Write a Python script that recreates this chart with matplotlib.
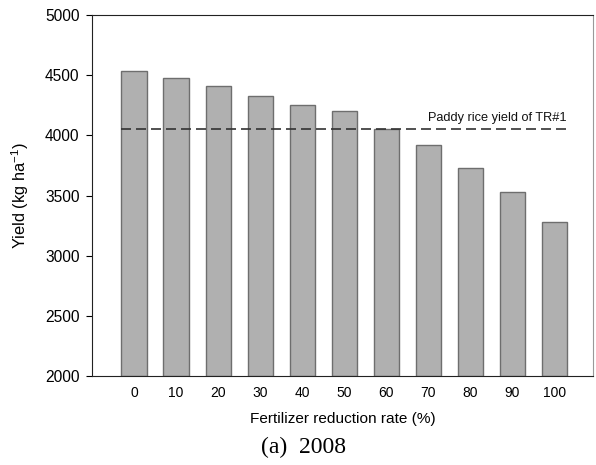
import matplotlib
matplotlib.use("Agg")
import matplotlib.pyplot as plt
import numpy as np

# yield under each fertilizer reduction rate, 2008
rates = [0, 10, 20, 30, 40, 50, 60, 70, 80, 90, 100]
yields = [4535, 4479, 4408, 4325, 4250, 4200, 4053, 3923, 3727, 3530, 3281]
tr1_yield = 4053
ref_label = "Paddy rice yield of TR#1"

plt.rcParams['font.family'] = ['Liberation Sans', 'DejaVu Sans']

fig = plt.figure(figsize=(5.96, 4.65), dpi=100)
ax = fig.add_axes([0.1544, 0.1914, 0.8406, 0.7763])

pos = np.arange(len(rates))
ax.bar(pos, [y - 2000 for y in yields], bottom=2000, width=0.6,
       color='#b0b0b0', edgecolor='#6e6e6e', linewidth=1.0, zorder=2)

ax.plot([pos[0] - 0.3, pos[-1] + 0.3], [tr1_yield, tr1_yield], color='#333333',
        linestyle=(0, (6, 3)), linewidth=1.2, zorder=3)
ax.text(pos[-1] + 0.3, tr1_yield + 45, ref_label, ha='right', va='bottom',
        fontsize=9.2, color='#111111')

ax.set_xlim(-1.0, 10.92)
ax.set_ylim(2000, 5000)
ax.set_yticks(range(2000, 5001, 500))
ax.set_xticks(pos)
ax.set_xticklabels([str(r) for r in rates])
ax.tick_params(axis='y', direction='out', length=4, labelsize=11.2, pad=5)
ax.tick_params(axis='x', length=0, labelsize=10, pad=7)

for side in ['left', 'bottom', 'top']:
    ax.spines[side].set_color('#222222')
ax.spines['right'].set_color('#999999')

ax.set_xlabel("Fertilizer reduction rate (%)", fontsize=11.1, labelpad=9)
ax.set_ylabel("Yield (kg ha$^{\\mathregular{-1}}$)", fontsize=11.8, labelpad=10)

fig.text(0.51, 0.037, "(a)  2008", ha='center', va='center',
         fontsize=17, family=['Liberation Serif', 'DejaVu Serif'])

fig.savefig("out.png", dpi=100)
